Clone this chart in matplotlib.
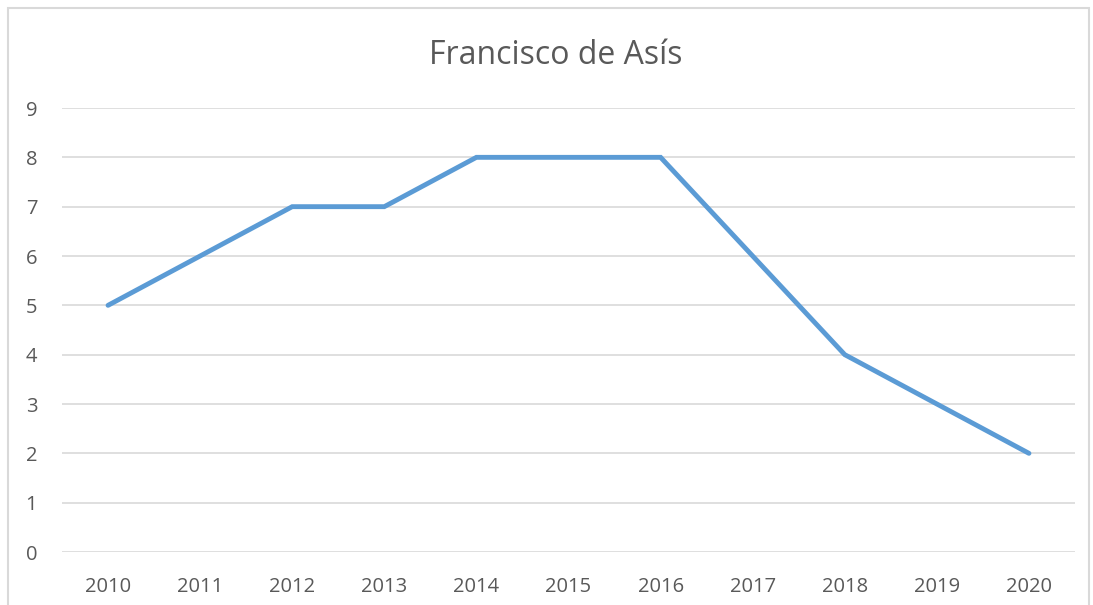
import matplotlib.pyplot as plt
from matplotlib.patches import Rectangle

YEARS = ["2010", "2011", "2012", "2013", "2014", "2015",
         "2016", "2017", "2018", "2019", "2020"]
VALUES = [5, 6, 7, 7, 8, 8, 8, 6, 4, 3, 2]
Y_TICKS = list(range(0, 10))

TITLE = "Francisco de Asís"
LINE = "#5B9BD5"
GRID = "#D9D9D9"
TEXT = "#595959"

W, H = 1093, 605

plt.rcParams["font.family"] = ["Open Sans", "DejaVu Sans"]

fig = plt.figure(figsize=(W / 100, H / 100), dpi=100)
fig.patch.set_facecolor("white")

# chart border (bottom edge runs off the image)
fig.add_artist(Rectangle((8 / W, -0.05), (1089 - 8) / W, 1.05 - 8 / H,
                         transform=fig.transFigure, fill=False,
                         edgecolor=GRID, linewidth=1.5))

ax = fig.add_axes([62 / W, 1 - 552 / H, (1075 - 62) / W, (552 - 108) / H])
x = list(range(len(YEARS)))
ax.plot(x, VALUES, color=LINE, linewidth=3.5, solid_capstyle="round",
        solid_joinstyle="miter", zorder=3)

ax.set_xlim(-0.5, len(YEARS) - 0.5)
ax.set_ylim(0, 9)
ax.set_xticks(x)
ax.set_xticklabels(YEARS)
ax.set_yticks(Y_TICKS)
ax.tick_params(length=0, labelsize=14.5, colors=TEXT)
ax.tick_params(axis="x", pad=18)
ax.tick_params(axis="y", pad=22)
for lbl in ax.get_yticklabels():
    lbl.set_horizontalalignment("center")
ax.yaxis.grid(True, color=GRID, linewidth=1.2)
ax.set_axisbelow(True)
for s in ax.spines.values():
    s.set_visible(False)

fig.text(556 / W, 1 - 55 / H, TITLE, ha="center", va="center",
         fontsize=23, color=TEXT)

fig.savefig("out.png", dpi=100, facecolor="white")
